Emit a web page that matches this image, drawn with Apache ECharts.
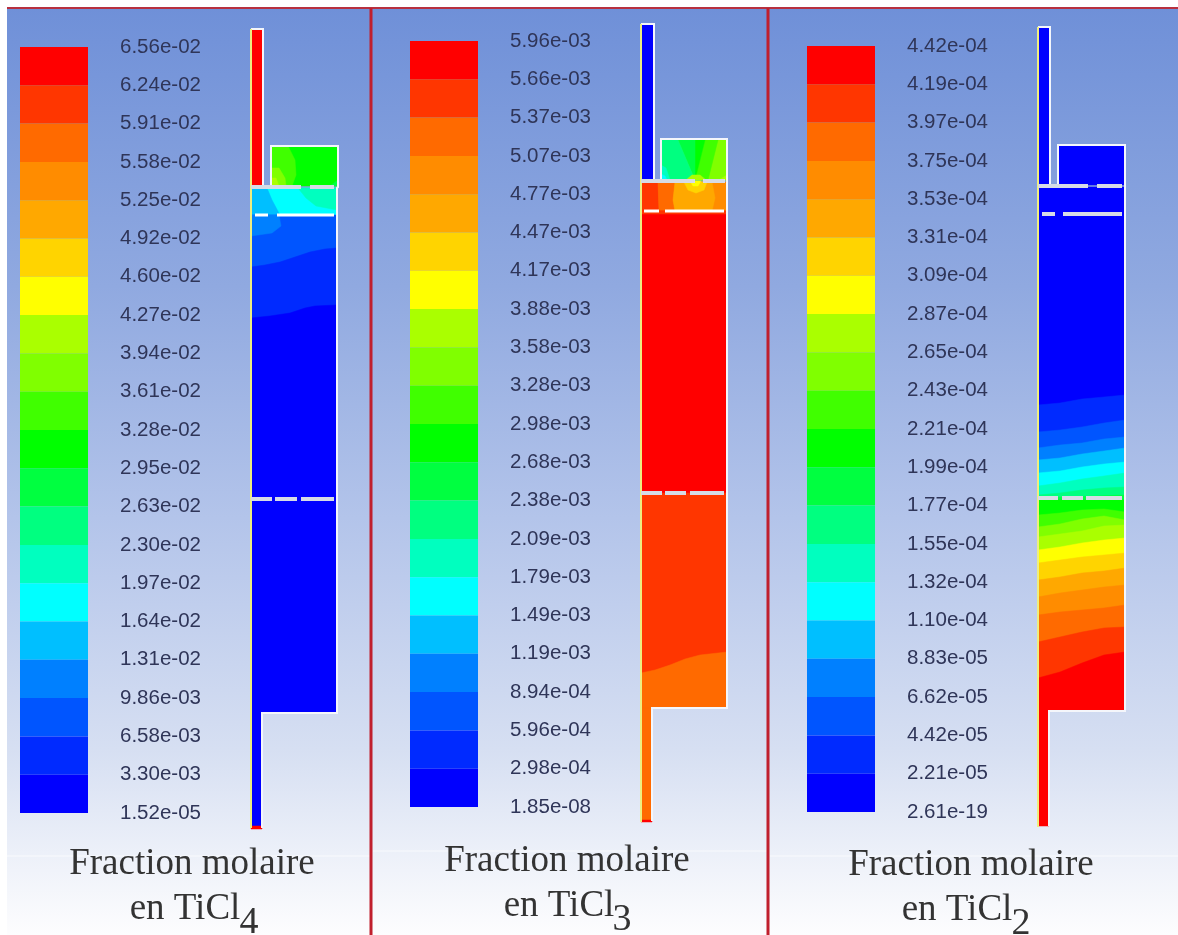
<!DOCTYPE html>
<html><head><meta charset="utf-8">
<script src="https://cdn.jsdelivr.net/npm/echarts@6/dist/echarts.min.js"></script>
<style>html,body{margin:0;padding:0;background:#fff}#c{width:1178px;height:935px;filter:blur(0.6px)}</style>
</head><body><div id="c"></div>
<script>
// Colour levels, top of the scale first
const levels = ['#ff0000','#ff3600','#ff6a00','#ff8c00','#ffa800','#ffd400','#ffff00','#aaff00','#80ff00','#40ff00','#00ff00','#00ff40','#00ff80','#00ffbf','#00ffff','#00bfff','#0080ff','#0055ff','#002aff','#0000ff'];

const ticksTiCl4 = ['6.56e-02','6.24e-02','5.91e-02','5.58e-02','5.25e-02','4.92e-02','4.60e-02','4.27e-02','3.94e-02','3.61e-02','3.28e-02','2.95e-02','2.63e-02','2.30e-02','1.97e-02','1.64e-02','1.31e-02','9.86e-03','6.58e-03','3.30e-03','1.52e-05'];
const ticksTiCl3 = ['5.96e-03','5.66e-03','5.37e-03','5.07e-03','4.77e-03','4.47e-03','4.17e-03','3.88e-03','3.58e-03','3.28e-03','2.98e-03','2.68e-03','2.38e-03','2.09e-03','1.79e-03','1.49e-03','1.19e-03','8.94e-04','5.96e-04','2.98e-04','1.85e-08'];
const ticksTiCl2 = ['4.42e-04','4.19e-04','3.97e-04','3.75e-04','3.53e-04','3.31e-04','3.09e-04','2.87e-04','2.65e-04','2.43e-04','2.21e-04','1.99e-04','1.77e-04','1.55e-04','1.32e-04','1.10e-04','8.83e-05','6.62e-05','4.42e-05','2.21e-05','2.61e-19'];

// Contour regions: [level, x,y, x,y, ...] painted in order
const fieldTiCl4 = [
 [0, 251,30, 263,30, 263,186, 251,186],
 [10, 271,146, 338,146, 338,186, 271,186],
 [9, 271,146, 288,146, 295,160, 296,175, 292,186, 271,186],
 [8, 271,168, 279,168, 285,178, 286,186, 271,186],
 [7, 271,178, 276,178, 279,186, 271,186],
 [11, 330,186, 338,180, 338,186],
 [14, 251,188, 337,188, 337,215, 251,215],
 [13, 298,188, 337,188, 337,210, 316,206, 306,198],
 [15, 251,188, 267,188, 272,200, 280,215, 251,215],
 [17, 251,215, 337,215, 337,713, 251,713],
 [16, 251,215, 279,215, 281,226, 272,233, 251,236],
 [18, 251,267, 265,265, 280,262, 295,257, 310,252, 325,249, 337,248, 337,713, 251,713],
 [19, 251,318, 270,316, 290,313, 305,308, 315,306, 337,305, 337,713, 251,713],
 [19, 251,713, 262,713, 262,827, 251,827],
 [0, 251,826, 262,826, 262,829, 251,829]
];
const fieldTiCl3 = [
 [19, 641,25, 654,25, 654,180, 641,180],
 [8, 661,140, 727,140, 727,180, 661,180],
 [9, 705,140, 718,140, 708,180, 695,180],
 [10, 695,140, 705,140, 695,180],
 [11, 678,140, 695,140, 695,180],
 [12, 661,140, 678,140, 695,180, 661,180],
 [13, 661,165, 666,168, 670,180, 661,180],
 [14, 661,174, 665,176, 667,180, 661,180],
 [7, 686,180, 692,175, 700,175, 706,180],
 [7, 719,180, 727,175, 727,180],
 [3, 641,182, 727,182, 727,211, 641,211],
 [1, 641,182, 658,182, 659,211, 641,211],
 [2, 658,182, 675,182, 673,200, 675,211, 659,211],
 [4, 675,182, 712,182, 715,198, 712,211, 675,211, 673,200],
 [5, 684,182, 707,182, 704,190, 696,193, 688,190],
 [6, 690,181, 701,181, 698,186, 693,186],
 [0, 641,211, 727,211, 727,493, 641,493],
 [1, 641,211, 727,211, 727,214, 641,214],
 [1, 641,493, 727,493, 727,708, 641,708],
 [2, 641,673, 655,670, 670,665, 685,659, 700,655, 727,652, 727,708, 641,708],
 [2, 641,708, 652,708, 652,821, 641,821],
 [0, 641,820, 652,820, 652,822, 641,822]
];
const fieldTiCl2 = [
 [19, 1038,28, 1050,28, 1050,185, 1038,185],
 [19, 1058,145, 1125,145, 1125,185, 1058,185],
 [19, 1038,187, 1125,187, 1125,711, 1038,711],
 [18, 1038,405, 1060,403, 1082,399, 1104,397, 1125,395, 1125,711, 1038,711],
 [17, 1038,432, 1060,430, 1082,427, 1104,423, 1125,420, 1125,711, 1038,711],
 [16, 1038,448, 1060,445, 1082,443, 1104,439, 1125,437, 1125,711, 1038,711],
 [15, 1038,460, 1060,458, 1082,454, 1104,451, 1125,448, 1125,711, 1038,711],
 [14, 1038,473, 1060,471, 1082,467, 1104,464, 1125,462, 1125,711, 1038,711],
 [13, 1038,486, 1060,483, 1082,479, 1104,476, 1125,473, 1125,711, 1038,711],
 [12, 1038,495, 1060,493, 1082,490, 1104,488, 1125,487, 1125,711, 1038,711],
 [11, 1038,498, 1125,495, 1125,711, 1038,711],
 [10, 1038,500, 1125,500, 1125,711, 1038,711],
 [9, 1038,515, 1060,513, 1082,510, 1104,509, 1125,512, 1125,711, 1038,711],
 [8, 1038,527, 1060,524, 1082,519, 1104,516, 1125,520, 1125,711, 1038,711],
 [7, 1038,537, 1060,534, 1082,531, 1104,526, 1125,525, 1125,711, 1038,711],
 [6, 1038,550, 1060,547, 1082,543, 1104,540, 1125,538, 1125,711, 1038,711],
 [5, 1038,563, 1060,560, 1082,557, 1104,555, 1125,553, 1125,711, 1038,711],
 [4, 1038,580, 1060,577, 1082,573, 1104,571, 1125,568, 1125,711, 1038,711],
 [3, 1038,597, 1060,593, 1082,590, 1104,587, 1125,585, 1125,711, 1038,711],
 [2, 1038,615, 1060,612, 1082,610, 1104,608, 1125,605, 1125,711, 1038,711],
 [1, 1038,642, 1060,637, 1082,632, 1104,628, 1125,627, 1125,711, 1038,711],
 [0, 1038,678, 1060,672, 1082,663, 1104,655, 1125,652, 1125,711, 1038,711],
 [0, 1038,711, 1049,711, 1049,826, 1038,826]
];

// Wall outlines, x,y runs
const wallsWhite = [
 [251,29, 263,29, 263,187],
 [271,187, 271,146, 338,146, 338,187, 337,188, 337,713, 262,713, 262,828],
 [641,24, 654,24, 654,181],
 [661,181, 661,139, 727,139, 727,182, 727,708, 652,708, 652,821],
 [1038,27, 1050,27, 1050,186],
 [1058,186, 1058,145, 1125,145, 1125,187, 1125,711, 1049,711, 1049,826]
];
const wallsYellow = [
 [251,29, 251,828],
 [641,24, 641,822],
 [1038,27, 1038,827]
];
const bafflesGrey = [
 [251,187, 301,187],[310,187, 334,187],
 [251,499, 272,499],[275,499, 297,499],[301,499, 334,499],
 [641,181, 695,181],[703,181, 725,181],
 [641,493, 662,493],[665,493, 686,493],[690,493, 724,493],
 [1038,186, 1088,186],[1097,186, 1122,186],
 [1038,498, 1058,498],[1062,498, 1083,498],[1086,498, 1122,498],
 [1042,214, 1055,214],[1063,214, 1122,214]
];
const bafflesWhite = [
 [255,215, 268,215],[277,215, 334,215],
 [644,211, 659,211],[665,211, 724,211]
];
const frameTop = [[7,8, 1178,8]];
const frameRed = [
 [371,8, 371,935],
 [768,8, 768,935]
];
const sheen = [
 [7,856, 370,856],
 [373,851, 767,851],
 [770,856, 1178,856]
];

const gridBars = [
  {left:20, top:47, width:68, height:766},
  {left:410, top:41, width:68, height:766},
  {left:807, top:46, width:68, height:766}
];
const allTicks = [ticksTiCl4, ticksTiCl3, ticksTiCl2];

const grids = gridBars.map(g => Object.assign({containLabel:false, show:false}, g));
grids.push({left:7, top:8, right:0, bottom:0, show:true, borderWidth:0,
  backgroundColor:new echarts.graphic.LinearGradient(0,0,0,1,[
    {offset:0,color:'#6f90d8'},{offset:0.3,color:'#90a9e0'},{offset:0.55,color:'#b3c4ea'},
    {offset:0.8,color:'#d6dff2'},{offset:0.93,color:'#f0f3fa'},{offset:1,color:'#fdfdfe'}])});

const xAxes = gridBars.map((g,i)=>({type:'value',gridIndex:i,min:0,max:1,show:false}));
xAxes.push({type:'value',gridIndex:3,min:7,max:1178,show:false});
const yAxes = gridBars.map((g,i)=>({type:'category',gridIndex:i,inverse:true,boundaryGap:false,position:'right',
  data:allTicks[i],axisLine:{show:false},axisTick:{show:false},splitLine:{show:false},
  axisLabel:{interval:0,margin:32,fontFamily:'Liberation Sans',fontSize:20.5,color:'#2f3558',align:'left'}}));
yAxes.push({type:'value',gridIndex:3,min:8,max:935,inverse:true,show:false});

function pts(api, run){
  const out=[];
  for(let i=0;i<run.length;i+=2) out.push(api.coord([run[i],run[i+1]]));
  return out;
}
function regionSeries(regions, z){
  return {type:'custom',xAxisIndex:3,yAxisIndex:3,z:z,silent:true,clip:false,
    data:regions.map(r=>[r[1],r[2]]),
    renderItem:(p,api)=>{
      const r=regions[p.dataIndex];
      return {type:'polygon',shape:{points:pts(api,r.slice(1))},
        style:{fill:levels[r[0]],stroke:levels[r[0]],lineWidth:0.5}};
    }};
}
function lineSeries(runs,color,width,z,opacity){
  return {type:'custom',xAxisIndex:3,yAxisIndex:3,z:z,silent:true,clip:false,
    data:runs.map(r=>[r[0],r[1]]),
    renderItem:(p,api)=>({type:'polyline',shape:{points:pts(api,runs[p.dataIndex])},
      style:{fill:null,stroke:color,lineWidth:width,opacity:opacity==null?1:opacity}})};
}
const barSeries = gridBars.map((g,i)=>({type:'custom',xAxisIndex:i,yAxisIndex:i,z:5,silent:true,
  data:levels.map((c,k)=>[0,k]),
  renderItem:(p,api)=>{
    const a=api.coord([0,p.dataIndex]), b=api.coord([1,p.dataIndex+1]);
    return {type:'rect',shape:{x:a[0],y:a[1],width:b[0]-a[0],height:b[1]-a[1]},style:{fill:levels[p.dataIndex]}};
  }}));

const serif={fontFamily:'Liberation Serif',fontWeight:'normal',color:'#333333',fontSize:37};
const sub=Object.assign({},serif,{fontSize:38});
const titles=[
 {text:'Fraction molaire',left:192,top:846,padding:0,textAlign:'center',textStyle:serif},
 {text:'en TiCl',left:185,top:891,padding:0,textAlign:'center',textStyle:serif},
 {text:'4',left:249,top:904,padding:0,textAlign:'center',textStyle:sub},
 {text:'Fraction molaire',left:567,top:843,padding:0,textAlign:'center',textStyle:serif},
 {text:'en TiCl',left:559,top:888,padding:0,textAlign:'center',textStyle:serif},
 {text:'3',left:622,top:901,padding:0,textAlign:'center',textStyle:sub},
 {text:'Fraction molaire',left:971,top:847,padding:0,textAlign:'center',textStyle:serif},
 {text:'en TiCl',left:957,top:892,padding:0,textAlign:'center',textStyle:serif},
 {text:'2',left:1021,top:905,padding:0,textAlign:'center',textStyle:sub}
];

const chart=echarts.init(document.getElementById('c'),null,{renderer:'canvas'});
chart.setOption({
  animation:false,
  backgroundColor:'#ffffff',
  title:titles,
  grid:grids, xAxis:xAxes, yAxis:yAxes,
  series:[
    lineSeries(sheen,'#ffffff',2,1,0.35),
    lineSeries(frameTop,'#b8303f',2,2),
    lineSeries(frameRed,'#c01f2d',3,2),
    ...barSeries,
    regionSeries(fieldTiCl4,6),
    regionSeries(fieldTiCl3,6),
    regionSeries(fieldTiCl2,6),
    lineSeries(wallsWhite,'#f4f6fb',2,7),
    lineSeries(wallsYellow,'#eeee80',2,8),
    lineSeries(bafflesGrey,'#d6dbe6',4,9),
    lineSeries(bafflesWhite,'#ffffff',3,9)
  ]
});
</script></body></html>
